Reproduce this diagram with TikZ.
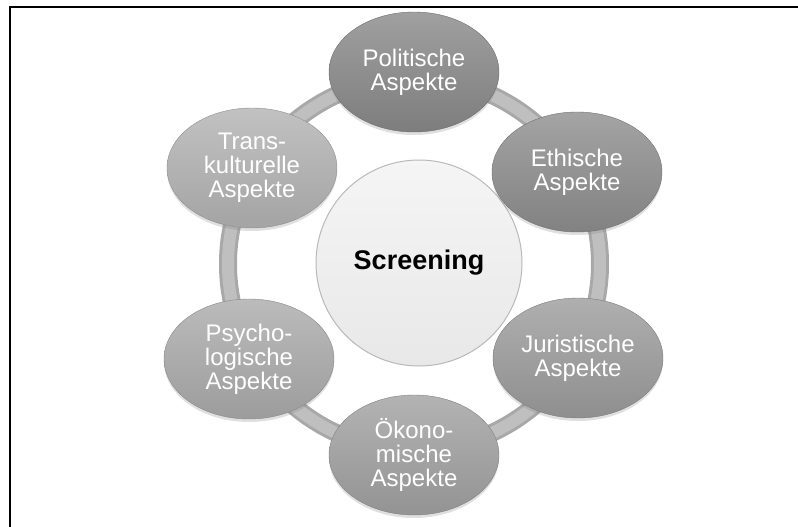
\documentclass[tikz,border=0pt]{standalone}
\usepackage{fontspec}
\setmainfont{Liberation Sans}
\usetikzlibrary{shapes.geometric}
\usetikzlibrary{shadows}

\definecolor{polgray}{HTML}{888888}
\definecolor{ethgray}{HTML}{8D8D8D}
\definecolor{jurgray}{HTML}{9B9B9B}
\definecolor{oekgray}{HTML}{A0A0A0}
\definecolor{psygray}{HTML}{AAAAAA}
\definecolor{tragray}{HTML}{B2B2B2}

\begin{document}
\begin{tikzpicture}[x=1pt,y=-1pt,
    aspect/.style={shape=ellipse,minimum width=170pt,minimum height=120pt,inner sep=0pt,
        align=center,text=white,font=\fontsize{24}{24}\selectfont,
        draw=#1!80!black,top color=#1!80!white,bottom color=#1!92!black,
        drop shadow={opacity=0.25,shadow xshift=0pt,shadow yshift=-3pt}},
    hub/.style={shape=circle,minimum size=206pt,inner sep=0pt,
        draw=gray!55,line width=1pt,top color=gray!8,bottom color=gray!18,
        font=\bfseries\fontsize{27}{27}\selectfont}]

    \useasboundingbox (0,0) rectangle (798,527);

    % frame
    \draw[line width=2pt] (10,527) -- (10,7) -- (798,7);

    % ring
    \coordinate (ring) at (414,264);
    \draw[line width=18pt,color=gray!68] (ring) circle[radius=186pt];
    \draw[line width=12pt,color=gray!50] (ring) circle[radius=186pt];

    % centre
    \node[hub] (screen) at (419,263) {Screening};

    % aspects
    \node[aspect=polgray] (pol) at (414,72) {Politische\\Aspekte};
    \node[aspect=ethgray] (eth) at (577,172) {Ethische\\Aspekte};
    \node[aspect=jurgray] (jur) at (578,358) {Juristische\\Aspekte};
    \node[aspect=oekgray] (oek) at (414,455) {Ökono-\\mische\\Aspekte};
    \node[aspect=psygray] (psy) at (249,359) {Psycho-\\logische\\Aspekte};
    \node[aspect=tragray] (tra) at (252,168) {Trans-\\kulturelle\\Aspekte};

\end{tikzpicture}
\end{document}
